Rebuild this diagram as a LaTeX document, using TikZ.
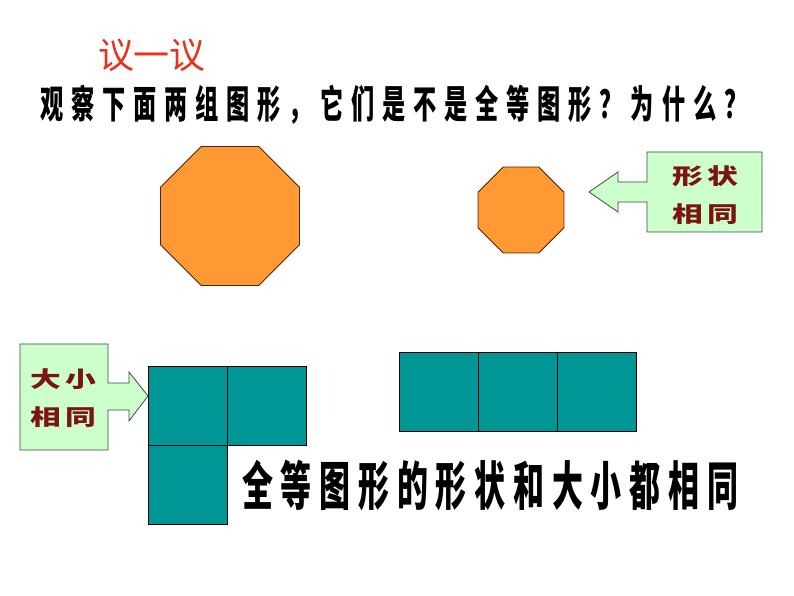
\documentclass[tikz,border=0pt]{standalone}
\usepackage{fontspec}
\usepackage{graphicx}
\usepackage{xcolor}
\usepackage{tikz}
\usetikzlibrary{shapes.geometric}
\newfontfamily\cjk{Noto Sans CJK SC}
\newfontfamily\cjkq{Noto Sans CJK SC}[LetterSpace=34]
\newfontfamily\cjks{Noto Sans CJK SC}[LetterSpace=25]
\newfontfamily\cjkc{Noto Sans CJK SC}[LetterSpace=14]
\definecolor{GeoRed}{RGB}{230, 50, 30}
\definecolor{GeoOrange}{RGB}{255, 153, 51}
\definecolor{GeoBrown}{RGB}{77, 38, 0}
\definecolor{GeoTeal}{RGB}{0, 150, 150}
\definecolor{GeoGreen}{RGB}{204, 255, 204}
\definecolor{GeoEdge}{RGB}{60, 75, 60}
\definecolor{GeoMaroon}{RGB}{125, 20, 20}
\tikzset{
  octagon/.style={regular polygon, regular polygon sides=8, inner sep=0pt,
    fill=GeoOrange, draw=GeoBrown, line width=0.6pt},
  tile/.style={fill=GeoTeal, draw=black, line width=0.6pt},
  callout/.style={fill=GeoGreen, draw=GeoEdge, line width=0.6pt},
  calltext/.style={text=GeoMaroon, inner sep=0pt,
    font={\fontsize{16.5pt}{18pt}\selectfont\cjkc\bfseries}}
}

\begin{document}
\begin{tikzpicture}[x=0.75pt,y=0.75pt]
  \path[use as bounding box] (0,0) rectangle (794,596);
  \fill[white] (0,0) rectangle (794,596);
  % heading and question
  \node[text=GeoRed, inner sep=0pt] (title) at (152,541)
    {\fontsize{27pt}{30pt}\selectfont\cjk 议一议};
  \node[anchor=west, inner sep=0pt] (question) at (40,491)
    {\scalebox{0.6}[1]{\fontsize{29pt}{32pt}\selectfont\cjkq\bfseries 观察下面两组图形，它们是不是全等图形？为什么？}};
  % first group
  \node[octagon, minimum size=112.8pt] (bigoct) at (230,380) {};
  \node[octagon, minimum size=69.75pt] (smalloct) at (521,386) {};
  \filldraw[callout] (647,444) -- (762,444) -- (762,364) -- (647,364) -- (647,394)
    -- (618,394) -- (618,384) -- (589,404) -- (618,424) -- (618,414) -- (647,414) -- cycle;
  \node[calltext] (shape1) at (705,420) {\scalebox{1.4}[1]{形状}};
  \node[calltext] (shape2) at (705,382) {\scalebox{1.4}[1]{相同}};
  % second group
  \foreach \x/\y in {148/151, 227/151, 148/72}{
    \draw[tile] (\x,\y) rectangle ++(79,79);
  }
  \foreach \x in {399,478,557}{
    \draw[tile] (\x,165) rectangle ++(79,79);
  }
  \filldraw[callout] (20,252) -- (108,252) -- (108,213) -- (129,213) -- (129,224)
    -- (148,200) -- (129,175) -- (129,186) -- (108,186) -- (108,146) -- (20,146) -- cycle;
  \node[calltext] (size1) at (63,217) {\scalebox{1.4}[1]{大小}};
  \node[calltext] (size2) at (63,179) {\scalebox{1.4}[1]{相同}};
  % conclusion
  \node[anchor=west, inner sep=0pt] (summary) at (242,110)
    {\scalebox{0.59}[1]{\fontsize{39.4pt}{42pt}\selectfont\cjks\bfseries 全等图形的形状和大小都相同}};
\end{tikzpicture}
\end{document}
